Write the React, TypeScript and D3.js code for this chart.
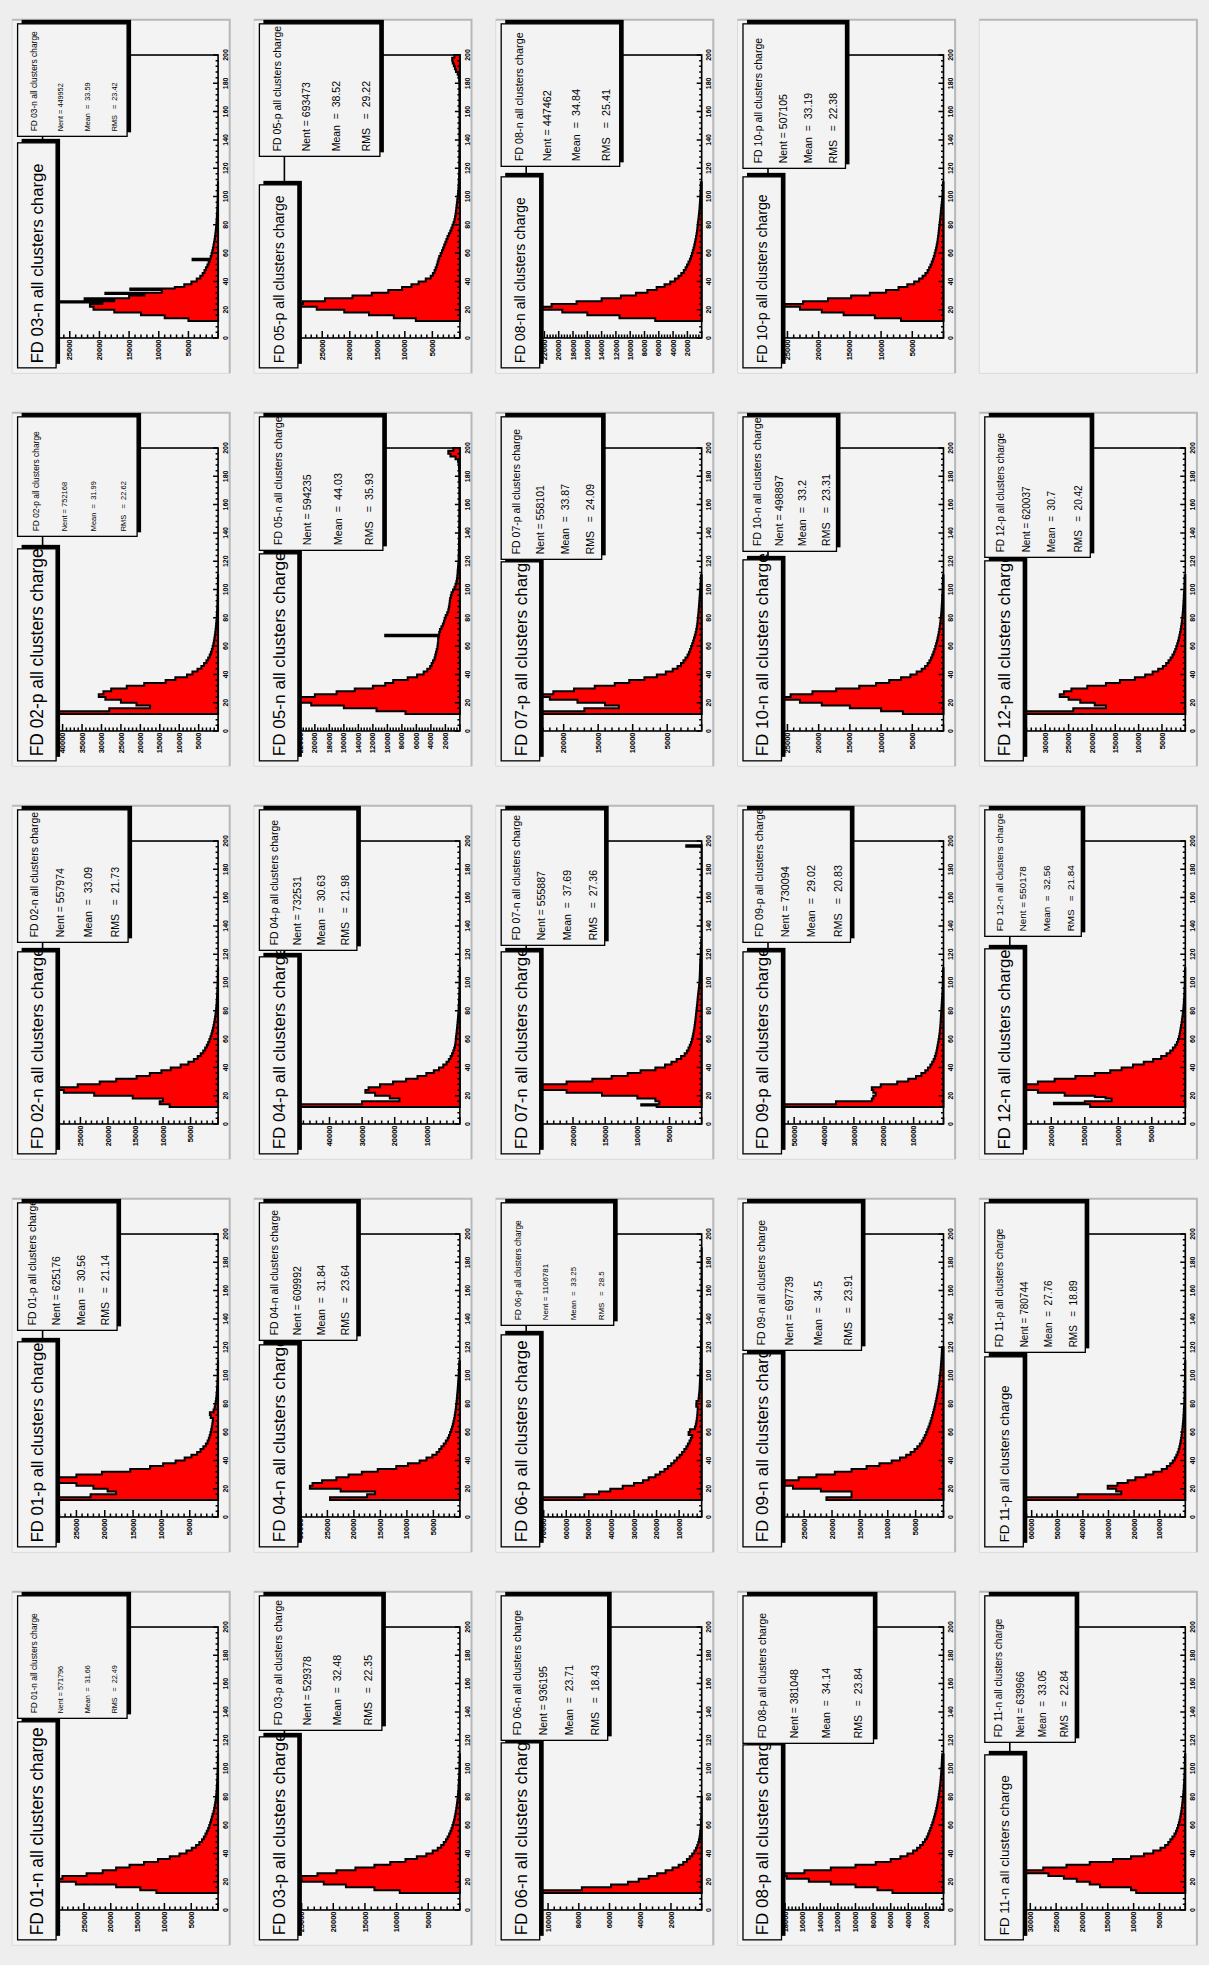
import React from 'react';
import * as d3 from 'd3';

// The ROOT canvas is landscape; it is drawn as such and turned a quarter turn onto the page.
const CW = 1965;
const CH = 1209;
const PW = CW * 0.18;
const PH = CH * 0.18;

// frame of each pad, pad-relative
const FX0 = PW * 0.1;
const FX1 = PW * 0.9;
const FY0 = 30.5;
const FY1 = 206;

const FONT = '"Liberation Sans", Arial, Helvetica, sans-serif';
const PAD_BG = '#f3f3f3';

const names = [
  'FD 01-n', 'FD 01-p', 'FD 02-n', 'FD 02-p', 'FD 03-n',
  'FD 03-p', 'FD 04-n', 'FD 04-p', 'FD 05-n', 'FD 05-p',
  'FD 06-n', 'FD 06-p', 'FD 07-n', 'FD 07-p', 'FD 08-n',
  'FD 08-p', 'FD 09-n', 'FD 09-p', 'FD 10-n', 'FD 10-p',
  'FD 11-n', 'FD 11-p', 'FD 12-n', 'FD 12-p',
];
const nent = [
  571796, 625176, 557974, 752168, 449952, 529378, 609992, 732531, 594235, 693473,
  936195, 1106781, 555887, 558101, 447462, 381048, 697739, 730094, 498897, 507105,
  639966, 780744, 550178, 620037,
];
const means = [
  '31.66', '30.56', '33.09', '31.99', '33.59', '32.48', '31.84', '30.63', '44.03', '38.52',
  '23.71', '33.25', '37.69', '33.87', '34.84', '34.14', '34.5', '29.02', '33.2', '33.19',
  '33.05', '27.76', '32.56', '30.7',
];
const rmss = [
  '22.49', '21.14', '21.73', '22.62', '23.42', '22.35', '23.64', '21.98', '35.93', '29.22',
  '18.43', '28.5', '27.36', '24.09', '25.41', '23.84', '23.91', '20.83', '23.31', '22.38',
  '22.84', '18.89', '21.84', '20.42',
];

// count axis: top of the frame and labelled step
const countMax = [
  32700, 30970, 31870, 45150, 29580, 27720, 33110, 53830, 24200, 31870,
  11425, 77760, 27280, 25430, 24550, 19940, 31490, 58760, 28120, 28120,
  33970, 68550, 26190, 37600,
];
const countStep = [
  5000, 5000, 5000, 5000, 5000, 5000, 5000, 10000, 2000, 5000,
  2000, 10000, 5000, 5000, 2000, 2000, 5000, 10000, 5000, 5000,
  5000, 10000, 5000, 5000,
];
const chargeTicks = d3.range(0, 201, 20);

// bin contents, 2 charge units wide, first bin starts at charge 12
const FIRST_BIN = 12;
const h01n = [11500, 14500, 19000, 26500, 31100, 29000, 24500, 21500, 19000, 16500, 13800, 11200, 9000, 7200, 5900, 4900, 4100, 3500, 3000, 2650, 2350, 2100, 1850, 1650, 1480, 1320, 1170, 1030, 850, 740, 640, 550, 470, 400, 345, 295, 255, 220, 190, 163, 140, 120, 103, 88, 75, 64, 54, 46, 39];
const h01p = [29500, 22500, 18000, 19500, 22000, 25000, 29000, 28500, 25000, 20500, 15500, 12000, 9700, 7500, 5900, 4700, 3700, 3100, 2600, 2150, 1850, 1640, 1480, 1340, 1220, 1120, 1030, 960, 900, 1300, 1450, 800, 620, 510, 420, 350, 290, 240, 200, 170, 140, 118, 100, 85, 72, 61, 52, 44, 37];
const h02n = [8800, 10600, 10000, 15500, 22500, 28000, 30300, 25500, 21500, 18500, 14800, 12400, 10300, 8600, 6800, 5400, 4400, 3700, 3150, 2700, 2350, 2050, 1800, 1580, 1390, 1220, 1070, 940, 820, 720, 630, 550, 470, 410, 355, 305, 265, 230, 200, 175, 152, 132, 114, 98, 84, 72, 62, 53, 45];
const h02p = [43000, 28000, 17500, 21000, 25000, 29000, 30700, 29500, 27500, 23500, 19000, 13500, 11000, 8000, 6600, 5300, 4300, 3600, 3000, 2550, 2150, 1850, 1600, 1400, 1220, 1080, 950, 840, 740, 650, 570, 500, 440, 385, 335, 290, 250, 215, 185, 160, 138, 118, 100, 85, 72, 61, 52, 44, 37];
const h03n = [5000, 9000, 13000, 17500, 21000, 21600, 19500, 17500, 15000, 12400, 9500, 7300, 5700, 4500, 3600, 3000, 2600, 2300, 2050, 1800, 1600, 1400, 1250, 1100, 980, 870, 770, 680, 600, 530, 465, 410, 360, 315, 275, 240, 210, 180, 155, 135, 115, 100, 85, 72, 62, 52, 44, 37, 31];
const h03p = [9500, 13500, 18000, 21500, 25000, 26400, 22500, 19500, 16500, 13500, 11000, 8600, 6800, 5300, 4300, 3500, 2950, 2550, 2200, 1950, 1700, 1500, 1330, 1180, 1040, 920, 820, 730, 650, 580, 515, 455, 400, 350, 305, 265, 230, 200, 175, 150, 130, 112, 97, 83, 71, 60, 51, 43, 36];
const h04n = [24500, 17500, 16000, 22500, 28300, 27800, 26000, 23300, 21000, 18500, 15500, 12000, 9800, 7600, 6300, 5200, 4400, 3900, 3500, 3050, 2650, 2300, 2050, 1850, 1650, 1480, 1330, 1200, 1080, 980, 900, 820, 750, 690, 630, 580, 530, 490, 440, 400, 360, 320, 285, 250, 220, 190, 165, 140, 120];
const h04p = [51300, 30000, 18500, 21500, 26000, 29000, 28000, 24500, 20500, 16500, 13000, 10300, 8000, 6400, 5100, 4100, 3400, 2850, 2400, 2050, 1750, 1500, 1350, 1270, 1200, 1080, 980, 890, 810, 730, 650, 580, 510, 450, 395, 345, 300, 260, 225, 195, 168, 145, 125, 107, 92, 79, 68, 58, 50];
const h05n = [7500, 11500, 16000, 20500, 23000, 22000, 20000, 17000, 14500, 12000, 10300, 9200, 7200, 5900, 5000, 4500, 4100, 3900, 3700, 3500, 3400, 3300, 3200, 3100, 3050, 3000, 3000, 2900, 2850, 2750, 2550, 2350, 2200, 2100, 1950, 1750, 1600, 1520, 1450, 1400, 1350, 1250, 1150, 950, 750, 600, 480, 410, 360, 320, 300, 260, 230, 200, 180, 165, 150, 140, 130, 125, 120, 115, 110, 105, 100, 98, 95, 92, 90, 88, 86, 85, 84, 83, 82, 81, 80, 80, 80, 80, 80, 82, 85, 90, 95, 100, 110, 130, 160, 250, 600, 1300, 1600, 900];
const h05p = [8000, 12000, 16500, 21000, 26000, 30000, 28500, 24500, 19500, 16000, 13000, 10500, 8800, 7500, 6200, 5300, 4900, 4600, 4400, 4200, 4050, 3900, 3750, 3500, 3250, 3050, 2850, 2650, 2450, 2250, 2000, 1750, 1550, 1350, 1150, 1000, 880, 790, 720, 660, 600, 540, 480, 420, 360, 310, 270, 235, 205, 180, 160, 145, 135, 125, 118, 112, 106, 100, 96, 92, 90, 88, 86, 84, 82, 80, 80, 78, 78, 77, 76, 76, 75, 75, 75, 76, 78, 80, 82, 85, 88, 92, 96, 100, 110, 130, 200, 400, 700, 900, 1100, 1300, 1400, 1000];
const h06n = [10880, 7800, 5900, 4800, 4100, 3450, 2900, 2350, 1900, 1500, 1200, 960, 780, 620, 480, 370, 290, 225, 175, 140, 112, 90, 73, 60, 49, 40, 33, 27, 22, 18, 15, 12, 10, 8];
const h06p = [74000, 52000, 45500, 40500, 35000, 30000, 26000, 23500, 20500, 18500, 16500, 15000, 13500, 12200, 11000, 9800, 8700, 7700, 6800, 6100, 5400, 4800, 4200, 5800, 5200, 3000, 2600, 2350, 2150, 2000, 1900, 1800, 1750, 2400, 2300, 1400, 1250, 1120, 1000, 920, 850, 790, 740, 690, 640, 600, 560, 520, 480, 450, 420, 390, 360, 335, 310, 290, 270, 250, 230, 215, 200, 188, 176, 165, 155, 145, 136, 128, 120, 112, 105, 98, 92, 86, 80, 75, 70, 65, 60, 56, 52, 48, 45, 42, 40, 38, 36, 34, 32];
const h07n = [7000, 6600, 7200, 10000, 15500, 21000, 25900, 25000, 21000, 17000, 14000, 11500, 9500, 7200, 5700, 4700, 3900, 3200, 2650, 2300, 2050, 1850, 1660, 1530, 1420, 1330, 1240, 1160, 1100, 1040, 980, 930, 880, 840, 790, 740, 690, 650, 610, 560, 510, 460, 410, 370, 340, 315, 295, 280, 265, 250, 235, 215, 190, 160, 130, 110, 95, 82, 72];
const h07p = [24200, 17000, 12000, 14000, 18000, 22000, 24000, 21500, 18500, 15500, 12600, 10500, 8300, 6500, 5200, 4200, 3500, 3000, 2650, 2350, 2050, 1850, 1680, 1530, 1380, 1240, 1110, 990, 880, 790, 710, 650, 600, 560, 520, 480, 445, 410, 380, 350, 320, 290, 260, 230, 200, 175, 150, 130, 110];
const h08n = [6500, 11500, 16000, 19500, 23300, 21000, 17500, 14000, 11300, 9200, 7600, 6300, 5200, 4400, 3750, 3250, 2850, 2500, 2250, 2050, 1850, 1650, 1500, 1370, 1250, 1140, 1040, 950, 870, 790, 720, 660, 610, 570, 530, 480, 430, 385, 345, 310, 280, 252, 227, 205, 185, 167, 150, 135, 120];
const h08p = [5800, 7500, 10000, 12800, 15300, 17800, 19000, 15800, 12800, 10000, 7700, 6000, 4900, 4100, 3450, 3000, 2650, 2350, 2100, 1900, 1750, 1620, 1500, 1380, 1270, 1160, 1070, 980, 900, 820, 750, 690, 630, 580, 530, 485, 440, 400, 365, 335, 305, 280, 260, 240, 220, 200, 182, 165, 150];
const h09n = [21000, 16500, 16500, 22000, 27000, 30000, 28500, 26000, 22800, 19500, 16500, 13800, 11500, 9300, 7800, 6700, 5900, 5200, 4700, 4250, 3900, 3600, 3350, 3100, 2900, 2700, 2500, 2330, 2170, 2020, 1880, 1750, 1630, 1510, 1400, 1290, 1190, 1090, 1000, 910, 830, 760, 700, 640, 590, 540, 500, 460, 420, 380, 345, 315, 285, 255];
const h09p = [56000, 36000, 24000, 23500, 22700, 23500, 24000, 21000, 15500, 11800, 9200, 7400, 6100, 5200, 4400, 3800, 3300, 2900, 2600, 2350, 2150, 1980, 1800, 1640, 1490, 1350, 1230, 1140, 1060, 990, 930, 880, 820, 760, 700, 640, 580, 520, 460, 400, 350, 310, 275, 245, 218, 194, 172, 153, 136];
const h10n = [6500, 10000, 15000, 19500, 23000, 26700, 24500, 21000, 17200, 13500, 10800, 8700, 6800, 5300, 4300, 3500, 2950, 2550, 2250, 2000, 1800, 1620, 1460, 1310, 1180, 1060, 950, 850, 760, 680, 610, 550, 495, 445, 400, 360, 325, 295, 268, 243, 220, 198, 178, 160, 143, 128, 114, 101, 90];
const h10p = [6800, 11000, 16000, 19500, 23000, 26700, 22500, 18500, 14800, 11800, 9200, 7200, 5800, 4700, 3900, 3350, 2900, 2550, 2300, 2080, 1880, 1700, 1550, 1420, 1300, 1190, 1090, 1000, 930, 870, 810, 760, 710, 660, 610, 560, 510, 460, 420, 380, 330, 280, 230, 190, 160, 135, 115, 98, 84];
const h11n = [9500, 10500, 16500, 18500, 21000, 23500, 26500, 32300, 27500, 23000, 18500, 14000, 10500, 8000, 6200, 4800, 3900, 3300, 2900, 2500, 2100, 1800, 1580, 1400, 1240, 1100, 980, 880, 790, 710, 640, 580, 520, 460, 405, 355, 310, 272, 238, 208, 182, 159, 139, 121, 106, 92, 80, 70, 61];
const h11p = [65300, 42000, 25000, 27000, 30300, 26500, 22500, 19500, 15500, 12500, 9200, 7200, 5900, 4900, 4100, 3500, 3000, 2600, 2300, 2050, 1830, 1640, 1470, 1320, 1190, 1070, 960, 860, 770, 690, 620, 555, 495, 440, 390, 345, 305, 270, 238, 210, 185, 163, 144, 127, 112, 99, 87, 77, 68];
const h12n = [14200, 15000, 11000, 13500, 18000, 22000, 24900, 24500, 22000, 19500, 16400, 13500, 11200, 9500, 7800, 6200, 4800, 3600, 2800, 2250, 1850, 1500, 1250, 1080, 950, 850, 770, 700, 630, 560, 500, 440, 385, 335, 290, 250, 218, 190, 166, 145, 127, 111, 97, 85, 74, 65, 57, 50, 44];
const h12p = [35800, 24000, 17000, 19400, 22500, 25000, 26900, 26000, 24400, 21000, 17000, 14000, 10800, 8600, 7000, 5800, 4800, 4100, 3600, 3150, 2750, 2400, 2150, 1930, 1730, 1550, 1390, 1250, 1120, 1000, 900, 810, 730, 660, 600, 545, 495, 450, 410, 370, 335, 300, 270, 240, 215, 190, 170, 150, 132];

const contents = [
  h01n, h01p, h02n, h02p, h03n, h03p, h04n, h04p, h05n, h05p, h06n, h06p,
  h07n, h07p, h08n, h08p, h09n, h09p, h10n, h10p, h11n, h11p, h12n, h12p,
];

// single-unit bins that stand out of the 2-unit contents: [charge, count]
const spikes: number[][][] = [
  [], [], [], [], [[25, 28000], [27, 22500], [31, 19000], [34, 14800], [55, 4300]],
  [], [], [], [[67, 10300]], [],
  [], [], [[13, 9400], [196, 2400]], [], [],
  [], [], [], [], [],
  [], [], [[14, 19600], [18, 11900]], [],
];

// title and stats boxes as ROOT laid them out (pad-relative px)
const titleBoxW = [218, 205, 202, 212, 225, 203, 202, 197, 207, 183, 197, 212, 202, 199, 191, 195, 193, 202, 201, 191, 185, 190, 205, 200];
const titleTextW = [208, 200, 202, 208, 200, 203, 205, 203, 205, 168, 203, 202, 202, 203, 166, 203, 203, 202, 203, 169, 160, 157, 200, 203];
const statLeft = [227, 222, 217, 230, 237, 215, 212, 209, 216, 217, 205, 227, 214, 207, 207, 202, 202, 217, 215, 205, 203, 200, 223, 209];
const statBottom = [115, 105, 116, 125, 115, 128, 103, 103, 129, 126, 112, 118, 109, 106, 124, 136, 124, 113, 99, 108, 96, 106, 102, 111];
const statFont = [7.2, 10.5, 10.5, 7.5, 7.3, 10.5, 10.5, 10.5, 10.8, 10.5, 10.5, 8, 10.5, 10.5, 10.8, 10.5, 10.5, 10.8, 10.8, 10.5, 10, 10, 9.9, 10];

function unitBins(bins: number[], extra: number[][]) {
  const out: number[] = [];
  bins.forEach((v) => out.push(v, v));
  extra.forEach(([c, v]) => {
    const i = c - FIRST_BIN;
    while (out.length <= i) out.push(0);
    out[i] = v;
  });
  return out;
}

function Pad({ k }: { k: number }) {
  const col = k % 5;
  const row = Math.floor(k / 5);
  const x0 = CW * (0.2 * col + 0.01);
  const y0 = CH * (0.2 * row + 0.01);

  const padBg = (
    <>
      <rect width={PW} height={PH} fill={PAD_BG} />
      <path d={`M0,${PH}V0H${PW}`} fill="none" stroke="#dadada" strokeWidth={1} />
      <path d={`M0,${PH}H${PW}V0`} fill="none" stroke="#b8b8b8" strokeWidth={2} />
    </>
  );
  if (k >= names.length) return <g transform={`translate(${x0},${y0})`}>{padBg}</g>;

  const x = d3.scaleLinear().domain([0, 200]).range([FX0, FX1]);
  const y = d3.scaleLinear().domain([0, countMax[k]]).range([FY1, FY0]);

  const unit = unitBins(contents[k], spikes[k]);
  const pts: [number, number][] = unit.map((v, i) => [FIRST_BIN + i, v]);
  pts.push([FIRST_BIN + unit.length, 0]);
  const area = d3
    .area<[number, number]>()
    .curve(d3.curveStepAfter)
    .x((d) => x(d[0]))
    .y0(y(0))
    .y1((d) => y(d[1]));

  const step = countStep[k];
  const cMajor = d3.range(0, countMax[k] + 1, step);
  const cMinor = d3.range(0, countMax[k], step / 5).filter((v) => v % step !== 0);
  const qMinor = d3.range(0, 200, 4).filter((v) => v % 20 !== 0);

  let ticks = '';
  cMajor.forEach((v) => (ticks += `M${FX0},${y(v)}h7`));
  cMinor.forEach((v) => (ticks += `M${FX0},${y(v)}h3.5`));
  chargeTicks.forEach((v) => (ticks += `M${x(v)},${FY1}v-5`));
  qMinor.forEach((v) => (ticks += `M${x(v)},${FY1}v-2.5`));

  const tw = titleBoxW[k];
  const tfs = titleTextW[k] / 11.9;
  const sx = statLeft[k];
  const sy = 5.5;
  const sw = 349.5 - sx;
  const sh = statBottom[k] - sy;
  const sf = statFont[k];
  const statLines = [
    `${names[k]} all clusters charge`,
    `Nent = ${nent[k]}`,
    `Mean  =  ${means[k]}`,
    `RMS   =  ${rmss[k]}`,
  ];
  const rowsAt = [0.15, 0.39, 0.635, 0.885];

  return (
    <g transform={`translate(${x0},${y0})`}>
      {padBg}
      <path d={area(pts) ?? ''} fill="#ff0000" stroke="#000" strokeWidth={2} />
      <rect x={FX0} y={FY0} width={FX1 - FX0} height={FY1 - FY0} fill="none" stroke="#000" strokeWidth={1.6} />
      <path d={ticks} stroke="#000" strokeWidth={1.5} fill="none" />
      {cMajor
        .filter((v) => v > 0)
        .map((v) => (
          <text key={`c${v}`} x={FX0 - 1.5} y={y(v)} dy="0.35em" fontSize={7.5} fontWeight="bold" textAnchor="end">
            {v}
          </text>
        ))}
      {chargeTicks.map((v) => (
        <text key={`q${v}`} x={x(v)} y={FY1 + 9.7} fontSize={7} fontWeight="bold" textAnchor="middle">
          {v}
        </text>
      ))}

      <rect x={5.5 + 4} y={5.5 + 4} width={tw} height={38.5} fill="#000" />
      <rect x={5.5} y={5.5} width={tw} height={38.5} fill={PAD_BG} stroke="#000" strokeWidth={1.3} />
      <text
        x={10}
        y={24.75 + tfs * 0.36}
        fontSize={tfs}
        textLength={titleTextW[k]}
        lengthAdjust="spacingAndGlyphs"
      >
        {`${names[k]} all clusters charge`}
      </text>

      <rect x={sx + 4} y={sy + 4} width={sw} height={sh} fill="#000" />
      <rect x={sx} y={sy} width={sw} height={sh} fill={PAD_BG} stroke="#000" strokeWidth={1.3} />
      {statLines.map((s, i) => {
        const fs = i === 0 ? Math.max(sf, 8.4) : sf;
        return (
          <text
            key={i}
            x={sx + 5}
            y={sy + rowsAt[i] * sh + fs * 0.36}
            fontSize={fs}
            style={{ whiteSpace: 'pre' }}
          >
            {s}
          </text>
        );
      })}
    </g>
  );
}

export default function App() {
  return (
    <div style={{ position: 'absolute', left: 0, top: 0 }}>
      <svg width={CH} height={CW} style={{ display: 'block' }} fontFamily={FONT}>
        <g transform={`translate(0,${CW}) rotate(-90)`}>
          <rect width={CW} height={CH} fill="#eeeeee" />
          {d3.range(25).map((k) => (
            <Pad key={k} k={k} />
          ))}
        </g>
      </svg>
    </div>
  );
}
